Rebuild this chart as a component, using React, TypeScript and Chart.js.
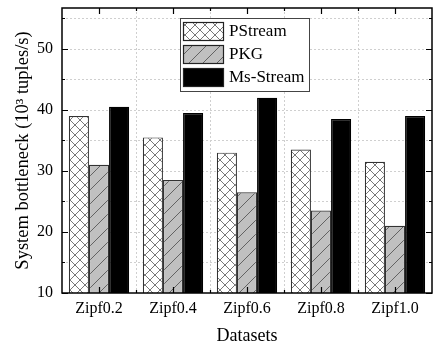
import React, { useEffect, useRef } from "react";
import { Chart, registerables } from "chart.js";

Chart.register(...registerables);

const categories = ["Zipf0.2", "Zipf0.4", "Zipf0.6", "Zipf0.8", "Zipf1.0"];
const pstream = [39, 35.5, 33, 33.5, 31.5];
const pkg = [31, 28.5, 26.5, 23.5, 21];
const msStream = [40.5, 39.5, 42, 38.5, 39];
const seriesNames = ["PStream", "PKG", "Ms-Stream"];
const yMin = 10;
const yMax = 56.7;
const yStep = 5;
const yLabelStep = 10;

const FONT = "'Times New Roman', 'Liberation Serif', serif";

function makeCross(): CanvasPattern | string {
  const c = document.createElement("canvas");
  const s = 10;
  c.width = s;
  c.height = s;
  const g = c.getContext("2d")!;
  g.fillStyle = "#ffffff";
  g.fillRect(0, 0, s, s);
  g.strokeStyle = "#555";
  g.lineWidth = 0.8;
  g.beginPath();
  g.moveTo(0, 0);
  g.lineTo(s, s);
  g.moveTo(0, s);
  g.lineTo(s, 0);
  g.stroke();
  return g.createPattern(c, "repeat") || "#fff";
}

function makeSlash(): CanvasPattern | string {
  const c = document.createElement("canvas");
  const s = 14;
  c.width = s;
  c.height = s;
  const g = c.getContext("2d")!;
  g.fillStyle = "#c0c0c0";
  g.fillRect(0, 0, s, s);
  g.strokeStyle = "#4a4a4a";
  g.lineWidth = 0.8;
  g.beginPath();
  g.moveTo(-1, s + 1);
  g.lineTo(s + 1, -1);
  g.stroke();
  return g.createPattern(c, "repeat") || "#c0c0c0";
}

const framePlugin = {
  id: "frame",
  beforeDatasetsDraw(chart: any) {
    const { ctx, chartArea: a, scales } = chart;
    const y = scales.y;
    const x = scales.x;
    ctx.save();
    ctx.strokeStyle = "#cfcfcf";
    ctx.lineWidth = 1;
    ctx.setLineDash([2, 2]);
    for (let v = yMin + yStep; v < yMax; v += yStep) {
      const py = Math.round(y.getPixelForValue(v)) + 0.5;
      ctx.beginPath();
      ctx.moveTo(a.left, py);
      ctx.lineTo(a.right, py);
      ctx.stroke();
    }
    const n = categories.length;
    for (let i = 1; i < n; i++) {
      const px = Math.round((x.getPixelForValue(i - 1) + x.getPixelForValue(i)) / 2) + 0.5;
      ctx.beginPath();
      ctx.moveTo(px, a.top);
      ctx.lineTo(px, a.bottom);
      ctx.stroke();
    }
    ctx.restore();
  },
  afterDatasetsDraw(chart: any) {
    const { ctx, chartArea: a, scales } = chart;
    const y = scales.y;
    const x = scales.x;
    ctx.save();
    ctx.strokeStyle = "#000";
    ctx.lineWidth = 1.5;
    ctx.setLineDash([]);
    ctx.strokeRect(a.left, a.top, a.right - a.left, a.bottom - a.top);
    ctx.lineWidth = 1.2;
    for (let v = yMin; v < yMax; v += yStep) {
      const py = Math.round(y.getPixelForValue(v)) + 0.5;
      const len = v % yLabelStep === 0 ? 6 : 3;
      ctx.beginPath();
      ctx.moveTo(a.left, py);
      ctx.lineTo(a.left + len, py);
      ctx.moveTo(a.right, py);
      ctx.lineTo(a.right - len, py);
      ctx.stroke();
    }
    const n = categories.length;
    for (let i = 0; i < n; i++) {
      const px = Math.round(x.getPixelForValue(i)) + 0.5;
      ctx.beginPath();
      ctx.moveTo(px, a.top);
      ctx.lineTo(px, a.top + 6);
      ctx.moveTo(px, a.bottom);
      ctx.lineTo(px, a.bottom - 6);
      ctx.stroke();
      if (i > 0) {
        const bx = Math.round((x.getPixelForValue(i - 1) + x.getPixelForValue(i)) / 2) + 0.5;
        ctx.beginPath();
        ctx.moveTo(bx, a.top);
        ctx.lineTo(bx, a.top + 3);
        ctx.moveTo(bx, a.bottom);
        ctx.lineTo(bx, a.bottom - 3);
        ctx.stroke();
      }
    }
    // legend
    const lx = 180;
    const ly = 18;
    const lw = 129;
    const lh = 73;
    ctx.fillStyle = "#fff";
    ctx.fillRect(lx, ly, lw, lh);
    ctx.strokeStyle = "#444";
    ctx.lineWidth = 1;
    ctx.strokeRect(lx + 0.5, ly + 0.5, lw, lh);
    const rows = chart.data.datasets;
    ctx.font = `17px ${FONT}`;
    ctx.textBaseline = "middle";
    rows.forEach((ds: any, i: number) => {
      const sy = ly + 4 + i * 23;
      ctx.fillStyle = ds.backgroundColor;
      ctx.fillRect(lx + 3, sy, 41, 19);
      ctx.strokeStyle = "#222";
      ctx.lineWidth = 1.2;
      ctx.strokeRect(lx + 3.5, sy + 0.5, 40, 18);
      ctx.fillStyle = "#000";
      ctx.fillText(ds.label, lx + 49, sy + 10);
    });
    ctx.restore();
  },
};

export default function App() {
  const ref = useRef<HTMLCanvasElement>(null);
  useEffect(() => {
    const cross = makeCross();
    const slash = makeSlash();
    const chart = new Chart(ref.current!, {
      type: "bar",
      data: {
        labels: categories,
        datasets: [
          { label: seriesNames[0], data: pstream, backgroundColor: cross as any, borderColor: "#333", borderWidth: 1.2 },
          { label: seriesNames[1], data: pkg, backgroundColor: slash as any, borderColor: "#333", borderWidth: 1.2 },
          { label: seriesNames[2], data: msStream, backgroundColor: "#000", borderColor: "#000", borderWidth: 1.2 },
        ],
      },
      options: {
        animation: false,
        responsive: false,
        maintainAspectRatio: false,
        layout: { padding: { top: 8, right: 1, left: 0, bottom: 0 } },
        datasets: { bar: { categoryPercentage: 0.815, barPercentage: 1.0 } } as any,
        plugins: { legend: { display: false }, tooltip: { enabled: false } },
        scales: {
          x: {
            grid: { display: false, drawTicks: false },
            border: { display: false },
            ticks: { color: "#000", font: { family: FONT, size: 16 }, padding: 6 },
            title: { display: true, text: "Datasets", color: "#000", font: { family: FONT, size: 18 }, padding: { top: 0, bottom: 3 } },
            afterFit(s: any) { s.height = 57; s.paddingLeft = 0; s.paddingRight = 0; },
          },
          y: {
            min: yMin,
            max: yMax,
            grid: { display: false, drawTicks: false },
            border: { display: false },
            afterBuildTicks(s: any) {
              const t = [];
              for (let v = yMin; v <= yMax; v += yStep) t.push({ value: v });
              s.ticks = t;
            },
            ticks: {
              color: "#000",
              font: { family: FONT, size: 16 },
              padding: 9,
              callback: (v: any) => (Number(v) % yLabelStep === 0 ? String(v) : ""),
            },
            title: { display: true, text: "System bottleneck (10³ tuples/s)", color: "#000", font: { family: FONT, size: 18.5 }, padding: { top: 12, bottom: 0 } },
            afterFit(s: any) { s.width = 62; s.paddingTop = 0; s.paddingBottom = 0; },
          },
        },
      },
      plugins: [framePlugin],
    });
    return () => chart.destroy();
  }, []);
  return (
    <div style={{ position: "fixed", left: 0, top: 0, width: 433, height: 350, background: "#fff" }}>
      <canvas ref={ref} width={433} height={350} style={{ width: 433, height: 350 }} />
    </div>
  );
}
